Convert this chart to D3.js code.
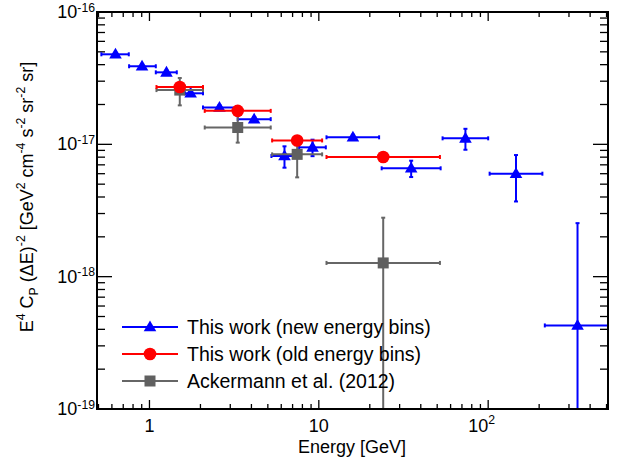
<!DOCTYPE html>
<html>
<head>
<meta charset="utf-8">
<script src="https://cdn.jsdelivr.net/npm/d3@7"></script>
<style>
html,body{margin:0;padding:0;background:#fff;}
svg{display:block;font-family:"Liberation Sans",Arial,Helvetica,sans-serif;}
</style>
</head>
<body>
<svg id="chart" width="619" height="461"></svg>
<script>
// ---------------- data ----------------
// Series 1: This work (new energy bins)
const newE     = [0.63, 0.904, 1.26, 1.75, 2.59, 4.15, 6.27, 9.18, 15.9, 35.1, 73.4, 146, 337];
const newElo   = [0.52, 0.758, 1.09, 1.62, 2.07, 3.32, 5.25, 7.65, 11.1, 23.5, 53.8, 102, 216];
const newEhi   = [0.755, 1.09, 1.45, 2.07, 3.24, 5.2, 7.5, 11.0, 22.7, 52.4, 100, 209, 560];
const newVal   = [4.79e-17, 3.89e-17, 3.50e-17, 2.43e-17, 1.90e-17, 1.55e-17, 8.16e-18, 9.49e-18, 1.13e-17, 6.59e-18, 1.11e-17, 6.0e-18, 4.28e-19];
const newErr   = [1.2e-18, 1.0e-18, 1.0e-18, 0.8e-18, 0.7e-18, 0.6e-18, 1.5e-18, 1.35e-18, 0.5e-18, 0.93e-18, 2.0e-18, 2.3e-18, 2.11e-18];

// Series 2: This work (old energy bins)
const oldE     = [1.51, 3.32, 7.45, 24.0];
const oldElo   = [1.10, 2.12, 5.3, 11.1];
const oldEhi   = [2.07, 5.2, 10.46, 51.9];
const oldVal   = [2.71e-17, 1.79e-17, 1.07e-17, 8.02e-18];
const oldErr   = [0, 0, 0, 0];

// Series 3: Ackermann et al. (2012)
const ackE     = [1.51, 3.32, 7.45, 24.0];
const ackElo   = [1.10, 2.12, 5.3, 11.1];
const ackEhi   = [2.07, 5.2, 10.46, 51.9];
const ackVal   = [2.57e-17, 1.34e-17, 8.4e-18, 1.27e-18];
const ackErr   = [0.6e-17, 0.31e-17, 2.77e-18, 1.52e-18];

// Axis ticks
const xTickVals  = [1, 10, 100];
const xTickBase  = ["1", "10", "10"];
const xTickExp   = ["", "", "2"];
const xMinorVals = [0.5,0.6,0.7,0.8,0.9, 2,3,4,5,6,7,8,9, 20,30,40,50,60,70,80,90, 200,300,400,500];
const yTickVals  = [1e-16, 1e-17, 1e-18, 1e-19];
const yTickBase  = ["10", "10", "10", "10"];
const yTickExp   = ["-16", "-17", "-18", "-19"];
const yDecades   = [1e-19, 1e-18, 1e-17];
const yMinorMult = [2,3,4,5,6,7,8,9];

const legendLabels = ["This work (new energy bins)", "This work (old energy bins)", "Ackermann et al. (2012)"];
const xTitle = "Energy [GeV]";

// ---------------- layout ----------------
const svg = d3.select("#chart");
const L = 97, R = 608, T = 12, B = 409;
const x = d3.scaleLog().domain([0.49, 510]).range([L, R]);
const y = d3.scaleLog().domain([1e-19, 1e-16]).range([B, T]);

const BLUE = "#0000ff", RED = "#ff0000", GRAY = "#666666";

svg.append("defs").append("clipPath").attr("id", "clip")
  .append("rect").attr("x", L).attr("y", T).attr("width", R - L).attr("height", B - T);

// rich text helper (superscript / subscript)
function rich(sel, parts, fs, supShift) {
  const ss = supShift || 0.42;
  let off = 0;
  parts.forEach(([t, m]) => {
    const target = m === 1 ? -ss * fs : (m === -1 ? 0.3 * fs : 0);
    sel.append("tspan")
      .attr("dy", target - off)
      .attr("font-size", m === 0 ? fs : fs * 0.68)
      .text(t);
    off = target;
  });
}

// ---------------- ticks ----------------
const axisG = svg.append("g").attr("stroke", "#000").attr("stroke-width", 1.3);
xTickVals.forEach(v => {
  axisG.append("line").attr("x1", x(v)).attr("x2", x(v)).attr("y1", B).attr("y2", B - 9);
  axisG.append("line").attr("x1", x(v)).attr("x2", x(v)).attr("y1", T).attr("y2", T + 9);
});
xMinorVals.forEach(v => {
  axisG.append("line").attr("x1", x(v)).attr("x2", x(v)).attr("y1", B).attr("y2", B - 5);
  axisG.append("line").attr("x1", x(v)).attr("x2", x(v)).attr("y1", T).attr("y2", T + 5);
});
yTickVals.forEach(v => {
  axisG.append("line").attr("x1", L).attr("x2", L + 15).attr("y1", y(v)).attr("y2", y(v));
  axisG.append("line").attr("x1", R).attr("x2", R - 15).attr("y1", y(v)).attr("y2", y(v));
});
yDecades.forEach(d => yMinorMult.forEach(k => {
  const v = d * k;
  axisG.append("line").attr("x1", L).attr("x2", L + 8).attr("y1", y(v)).attr("y2", y(v));
  axisG.append("line").attr("x1", R).attr("x2", R - 8).attr("y1", y(v)).attr("y2", y(v));
}));

// tick labels
const FS = 18;
xTickVals.forEach((v, i) => {
  const hasExp = !!xTickExp[i];
  const t = svg.append("text")
    .attr("x", hasExp ? x(v) - 0.556 * FS * xTickBase[i].length : x(v))
    .attr("y", 432).attr("text-anchor", hasExp ? "start" : "middle")
    .attr("font-size", FS).attr("fill", "#000");
  const parts = [[xTickBase[i], 0]];
  if (hasExp) parts.push([xTickExp[i], 1]);
  rich(t, parts, FS);
});
yTickVals.forEach((v, i) => {
  const t = svg.append("text").attr("x", 95).attr("y", y(v) + 6).attr("text-anchor", "end")
    .attr("font-size", FS).attr("fill", "#000");
  rich(t, [[yTickBase[i], 0], [yTickExp[i], 1]], FS, 0.36);
});

// axis titles
svg.append("text").attr("x", 352).attr("y", 453).attr("text-anchor", "middle")
  .attr("font-size", 18).attr("fill", "#000").text(xTitle);
const yt = svg.append("text").attr("transform", "translate(33,197) rotate(-90)")
  .attr("text-anchor", "middle").attr("font-size", 18).attr("fill", "#000");
rich(yt, [["E",0],["4",1],[" C",0],["P",-1],[" (\u0394E)",0],["-2",1],[" [GeV",0],["2",1],
          [" cm",0],["-4",1],[" s",0],["-2",1],[" sr",0],["-2",1],[" sr]",0]], 18);

// ---------------- series ----------------
const plot = svg.append("g").attr("clip-path", "url(#clip)");
const YMIN = 1e-21;

function drawSeries(E, Elo, Ehi, V, Err, color, marker) {
  const g = plot.append("g").attr("stroke", color).attr("stroke-width", 2).attr("fill", color);
  E.forEach((e, i) => {
    const cy = y(V[i]);
    g.append("line").attr("x1", x(Elo[i])).attr("x2", x(Ehi[i])).attr("y1", cy).attr("y2", cy);
    g.append("line").attr("x1", x(Elo[i])).attr("x2", x(Elo[i])).attr("y1", cy - 2).attr("y2", cy + 2);
    g.append("line").attr("x1", x(Ehi[i])).attr("x2", x(Ehi[i])).attr("y1", cy - 2).attr("y2", cy + 2);
    if (Err[i] > 0) {
      const yt = y(V[i] + Err[i]);
      const yb = y(Math.max(V[i] - Err[i], YMIN));
      g.append("line").attr("x1", x(e)).attr("x2", x(e)).attr("y1", yt).attr("y2", yb);
      g.append("line").attr("x1", x(e) - 2).attr("x2", x(e) + 2).attr("y1", yt).attr("y2", yt);
      g.append("line").attr("x1", x(e) - 2).attr("x2", x(e) + 2).attr("y1", yb).attr("y2", yb);
    }
    drawMarker(g, marker, x(e), cy, color);
  });
}
function drawMarker(g, marker, cx, cy, color) {
  if (marker === "tri") {
    g.append("path").attr("d", `M${cx},${cy - 6.5}L${cx + 6.3},${cy + 4.3}L${cx - 6.3},${cy + 4.3}Z`)
      .attr("stroke", "none").attr("fill", color);
  } else if (marker === "circle") {
    g.append("circle").attr("cx", cx).attr("cy", cy).attr("r", 6.3).attr("stroke", "none").attr("fill", color);
  } else {
    g.append("rect").attr("x", cx - 5.5).attr("y", cy - 5.5).attr("width", 11).attr("height", 11)
      .attr("stroke", "none").attr("fill", "#606060");
  }
}

drawSeries(newE, newElo, newEhi, newVal, newErr, BLUE, "tri");
drawSeries(ackE, ackElo, ackEhi, ackVal, ackErr, GRAY, "square");
drawSeries(oldE, oldElo, oldEhi, oldVal, oldErr, RED, "circle");

// ---------------- legend ----------------
const legColors = [BLUE, RED, GRAY];
const legMarkers = ["tri", "circle", "square"];
const legY = [327, 354, 381];
legendLabels.forEach((lab, i) => {
  const g = svg.append("g").attr("stroke", legColors[i]).attr("stroke-width", 2).attr("fill", legColors[i]);
  g.append("line").attr("x1", 122).attr("x2", 178).attr("y1", legY[i]).attr("y2", legY[i]);
  drawMarker(g, legMarkers[i], 150, legY[i], legColors[i]);
  svg.append("text").attr("x", 187).attr("y", legY[i] + 7).attr("font-size", 19.5)
    .attr("fill", "#000").text(lab);
});

// frame
svg.append("rect").attr("x", L).attr("y", T).attr("width", R - L).attr("height", B - T)
  .attr("fill", "none").attr("stroke", "#000").attr("stroke-width", 2);
</script>
</body>
</html>
